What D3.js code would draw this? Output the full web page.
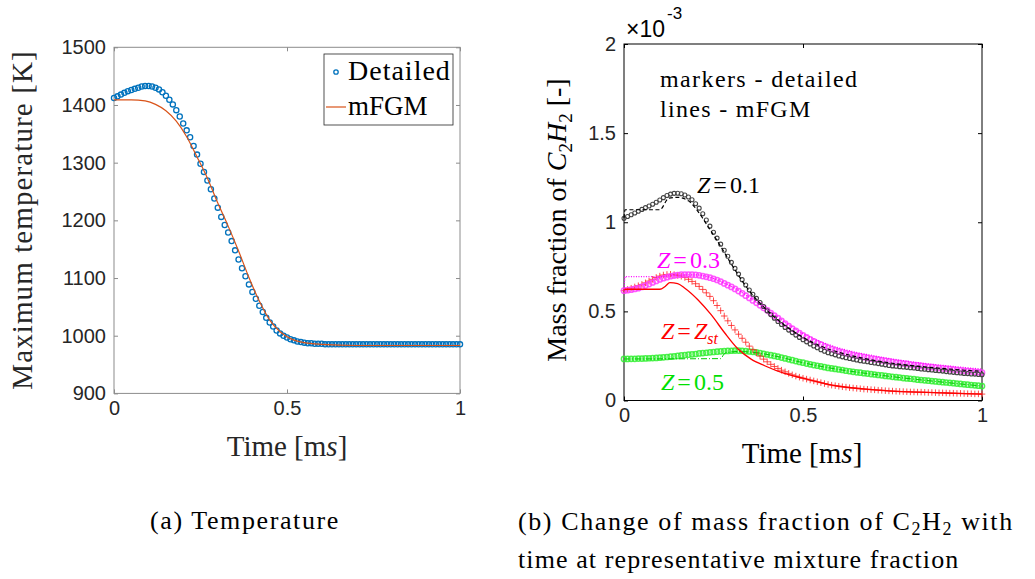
<!DOCTYPE html>
<html>
<head>
<meta charset="utf-8">
<script src="https://cdn.jsdelivr.net/npm/d3@7"></script>
<style>
  body { margin: 0; background: #fff; }
  text { font-family: "Liberation Serif", "DejaVu Serif", serif; }
  .tick text { font-family: "Liberation Sans", Arial, sans-serif; font-size: 20px; fill: #262626; }
  .sans { font-family: "Liberation Sans", Arial, sans-serif; }
</style>
</head>
<body>
<div id="chart"></div>
<script>
// time grid of the detailed solution (every 0.01 ms)
const tDet = d3.range(101).map(i => i / 100);

// (a) maximum temperature [K], detailed (markers)
const tempDetailed = [
  1412, 1415, 1418, 1421, 1424, 1426, 1428, 1430, 1432, 1433,
  1433, 1432, 1430, 1427, 1422, 1416, 1409, 1401, 1391, 1380,
  1368, 1356, 1344, 1329, 1314, 1298, 1284, 1269, 1254, 1238,
  1222, 1206, 1192, 1179, 1164, 1148, 1132, 1117, 1103, 1089,
  1076, 1064, 1052, 1041, 1031, 1023, 1016, 1009, 1004, 1000,
  997, 994, 992, 990, 989, 988, 987, 987, 986, 986,
  986, 985, 985, 985, 985, 985, 985, 985, 985, 985,
  985, 985, 985, 985, 985, 985, 985, 985, 985, 985,
  985, 985, 985, 985, 985, 985, 985, 985, 985, 985,
  985, 985, 985, 985, 985, 985, 985, 985, 985, 985, 985
];
// (a) mFGM line
const tempFgmT = [0, 0.05, 0.09, 0.12, 0.15, 0.18, 0.21, 0.24, 0.27, 0.30, 0.33, 0.36, 0.39, 0.42, 0.45, 0.48, 0.51, 0.55, 0.60, 0.70, 1.0];
const tempFgm  = [1409, 1409, 1407, 1401, 1390, 1372, 1345, 1310, 1273, 1230, 1190, 1147, 1101, 1060, 1027, 1007, 995, 988, 985, 983, 983];

// (b) C2H2 mass fraction (x1e-3), detailed markers
const c2h2Z01 = [
  1.022, 1.032, 1.042, 1.052, 1.062, 1.072, 1.082, 1.091, 1.101, 1.112,
  1.125, 1.138, 1.150, 1.158, 1.162, 1.163, 1.160, 1.153, 1.142, 1.126,
  1.104, 1.079, 1.048, 1.013, 0.978, 0.944, 0.911, 0.877, 0.843, 0.809,
  0.775, 0.741, 0.709, 0.678, 0.648, 0.620, 0.596, 0.573, 0.550, 0.527,
  0.503, 0.482, 0.462, 0.443, 0.426, 0.410, 0.395, 0.381, 0.367, 0.354,
  0.341, 0.329, 0.317, 0.306, 0.296, 0.285, 0.276, 0.268, 0.262, 0.256,
  0.250, 0.245, 0.240, 0.236, 0.232, 0.227, 0.223, 0.220, 0.217, 0.213,
  0.210, 0.207, 0.204, 0.200, 0.196, 0.194, 0.192, 0.190, 0.188, 0.186,
  0.184, 0.182, 0.180, 0.177, 0.175, 0.173, 0.171, 0.169, 0.167, 0.165,
  0.162, 0.160, 0.158, 0.156, 0.154, 0.152, 0.151, 0.149, 0.148, 0.146, 0.145
];
const c2h2Z03 = [
  0.616, 0.619, 0.622, 0.626, 0.630, 0.637, 0.645, 0.653, 0.662, 0.671,
  0.679, 0.686, 0.692, 0.697, 0.701, 0.704, 0.706, 0.707, 0.707, 0.706,
  0.705, 0.702, 0.698, 0.694, 0.689, 0.683, 0.676, 0.667, 0.657, 0.647,
  0.637, 0.626, 0.614, 0.601, 0.588, 0.575, 0.561, 0.548, 0.534, 0.520,
  0.506, 0.491, 0.476, 0.462, 0.447, 0.432, 0.418, 0.404, 0.391, 0.378,
  0.366, 0.354, 0.343, 0.332, 0.322, 0.313, 0.304, 0.296, 0.289, 0.282,
  0.276, 0.270, 0.265, 0.260, 0.255, 0.251, 0.247, 0.243, 0.239, 0.235,
  0.232, 0.229, 0.225, 0.222, 0.219, 0.216, 0.213, 0.210, 0.207, 0.205,
  0.202, 0.199, 0.197, 0.194, 0.192, 0.189, 0.187, 0.185, 0.182, 0.180,
  0.178, 0.176, 0.174, 0.171, 0.169, 0.167, 0.165, 0.163, 0.161, 0.159, 0.157
];
const c2h2Zst = [
  0.616, 0.623, 0.630, 0.637, 0.644, 0.651, 0.660, 0.670, 0.680, 0.690,
  0.698, 0.704, 0.707, 0.708, 0.706, 0.702, 0.697, 0.690, 0.680, 0.668,
  0.655, 0.640, 0.623, 0.604, 0.584, 0.560, 0.533, 0.504, 0.474, 0.447,
  0.421, 0.396, 0.372, 0.349, 0.327, 0.305, 0.285, 0.267, 0.249, 0.232,
  0.217, 0.203, 0.191, 0.180, 0.170, 0.161, 0.152, 0.144, 0.137, 0.131,
  0.125, 0.120, 0.115, 0.110, 0.105, 0.100, 0.095, 0.090, 0.086, 0.083,
  0.080, 0.077, 0.075, 0.072, 0.070, 0.068, 0.066, 0.064, 0.063, 0.061,
  0.060, 0.058, 0.057, 0.055, 0.054, 0.053, 0.052, 0.051, 0.050, 0.049,
  0.048, 0.048, 0.047, 0.047, 0.046, 0.045, 0.045, 0.044, 0.043, 0.043,
  0.042, 0.041, 0.041, 0.040, 0.040, 0.039, 0.038, 0.038, 0.037, 0.037, 0.036
];
const c2h2Z05 = [
  0.233, 0.233, 0.234, 0.234, 0.235, 0.235, 0.236, 0.237, 0.238, 0.239,
  0.240, 0.242, 0.244, 0.246, 0.248, 0.250, 0.253, 0.255, 0.257, 0.259,
  0.261, 0.264, 0.266, 0.268, 0.270, 0.272, 0.274, 0.276, 0.277, 0.278,
  0.279, 0.280, 0.280, 0.279, 0.277, 0.275, 0.273, 0.270, 0.266, 0.262,
  0.258, 0.254, 0.250, 0.246, 0.241, 0.236, 0.231, 0.226, 0.221, 0.216,
  0.212, 0.207, 0.203, 0.199, 0.195, 0.191, 0.187, 0.183, 0.180, 0.177,
  0.174, 0.171, 0.167, 0.164, 0.161, 0.158, 0.156, 0.153, 0.151, 0.148,
  0.146, 0.143, 0.141, 0.138, 0.136, 0.133, 0.131, 0.129, 0.126, 0.124,
  0.122, 0.120, 0.117, 0.115, 0.113, 0.111, 0.109, 0.107, 0.105, 0.103,
  0.101, 0.099, 0.097, 0.095, 0.093, 0.091, 0.089, 0.087, 0.085, 0.083, 0.081
];

// (b) mFGM lines
const fgmZ01T = [0, 0.003, 0.10, 0.125, 0.15, 0.18, 0.207, 0.235, 0.27, 0.30, 0.35, 0.40, 0.45, 0.50, 0.55, 0.65, 0.75, 0.85, 1.0];
const fgmZ01  = [1.022, 1.07, 1.07, 1.135, 1.14, 1.12, 1.06, 0.975, 0.865, 0.765, 0.615, 0.505, 0.42, 0.355, 0.305, 0.245, 0.209, 0.187, 0.163];
const fgmZ03T = [0, 0.003, 0.10, 0.15, 0.20, 0.30, 0.40, 0.50, 0.60, 0.70, 0.80, 0.90, 1.0];
const fgmZ03  = [0.616, 0.695, 0.695, 0.703, 0.705, 0.64, 0.51, 0.375, 0.295, 0.25, 0.218, 0.195, 0.176];
const fgmZstT = [0, 0.003, 0.10, 0.115, 0.128, 0.15, 0.17, 0.207, 0.244, 0.281, 0.318, 0.355, 0.393, 0.446, 0.50, 0.60, 0.70, 0.80, 0.90, 1.0];
const fgmZst  = [0.616, 0.624, 0.624, 0.640, 0.661, 0.655, 0.63, 0.564, 0.48, 0.38, 0.29, 0.232, 0.195, 0.153, 0.125, 0.08, 0.06, 0.048, 0.042, 0.036];
const fgmZ05T = [0, 0.27, 0.28, 0.29, 0.32, 0.37, 0.43, 0.50, 0.60, 0.70, 0.80, 0.90, 1.0];
const fgmZ05  = [0.233, 0.235, 0.262, 0.27, 0.275, 0.268, 0.246, 0.212, 0.174, 0.146, 0.122, 0.101, 0.081];

const xTicks = [0, 0.5, 1];
const tempTicks = [900, 1000, 1100, 1200, 1300, 1400, 1500];
const massTicks = [0, 0.5, 1, 1.5, 2];

const width = 1035, height = 579;
const svg = d3.select("#chart").append("svg")
  .attr("width", width).attr("height", height);

// draws the boxed axes with inward ticks on all four sides
function frame(g, x, y, yTicks, color) {
  const [x0, x1] = x.range(), [y0, y1] = y.range();
  g.append("g").attr("transform", `translate(0,${y0})`)
    .call(d3.axisBottom(x).tickValues(xTicks).tickFormat(d => d).tickSizeInner(-4).tickSizeOuter(0).tickPadding(7));
  g.append("g").attr("transform", `translate(0,${y1})`)
    .call(d3.axisTop(x).tickValues(xTicks).tickFormat("").tickSizeInner(-4).tickSizeOuter(0));
  g.append("g").attr("transform", `translate(${x0},0)`)
    .call(d3.axisLeft(y).tickValues(yTicks).tickFormat(d => d).tickSizeInner(-4).tickSizeOuter(0).tickPadding(8));
  g.append("g").attr("transform", `translate(${x1},0)`)
    .call(d3.axisRight(y).tickValues(yTicks).tickFormat("").tickSizeInner(-4).tickSizeOuter(0));
  g.selectAll(".domain").remove();
  g.selectAll(".tick line").attr("stroke", color);
  g.append("rect").attr("x", x0).attr("y", y1).attr("width", x1 - x0).attr("height", y0 - y1)
    .attr("fill", "none").attr("stroke", color).attr("stroke-width", 1);
}

// ---------- (a) temperature ----------
const xL = d3.scaleLinear().domain([0, 1]).range([114, 460]);
const yL = d3.scaleLinear().domain([900, 1500]).range([393.4, 47.3]);
const gL = svg.append("g");
frame(gL, xL, yL, tempTicks, "#8c8c8c");

gL.append("g").selectAll("circle")
  .data(tDet.map((t, i) => [t, tempDetailed[i]]))
  .join("circle")
  .attr("cx", d => xL(d[0])).attr("cy", d => yL(d[1])).attr("r", 2.6)
  .attr("fill", "none").attr("stroke", "#0072BD").attr("stroke-width", 1.3);

gL.append("path")
  .datum(tempFgmT.map((t, i) => [t, tempFgm[i]]))
  .attr("fill", "none").attr("stroke", "#D95319").attr("stroke-width", 1.2)
  .attr("d", d3.line().x(d => xL(d[0])).y(d => yL(d[1])).curve(d3.curveMonotoneX));

// legend
const leg = gL.append("g");
leg.append("rect").attr("x", 324).attr("y", 54).attr("width", 129).attr("height", 71)
  .attr("fill", "#fff").attr("stroke", "#262626").attr("stroke-width", 0.8);
leg.append("circle").attr("cx", 336).attr("cy", 72).attr("r", 2.2)
  .attr("fill", "none").attr("stroke", "#0072BD").attr("stroke-width", 1.3);
leg.append("line").attr("x1", 326).attr("x2", 346).attr("y1", 107).attr("y2", 107)
  .attr("stroke", "#D95319").attr("stroke-width", 1.2);
leg.append("text").attr("x", 348).attr("y", 80).attr("font-size", 28)
  .style("letter-spacing", "1px").text("Detailed");
leg.append("text").attr("x", 348).attr("y", 115).attr("font-size", 27).text("mFGM");

// axis labels
const xlabL = gL.append("text").attr("x", 287).attr("y", 456).attr("font-size", 29)
  .attr("text-anchor", "middle").attr("fill", "#262626");
xlabL.append("tspan").text("Time [m");
xlabL.append("tspan").attr("font-style", "italic").text("s");
xlabL.append("tspan").text("]");

gL.append("text").attr("transform", "translate(32,220) rotate(-90)").attr("font-size", 29)
  .attr("text-anchor", "middle").attr("fill", "#262626")
  .style("letter-spacing", "1.1px")
  .text("Maximum temperature [K]");

// ---------- (b) C2H2 ----------
const xR = d3.scaleLinear().domain([0, 1]).range([624, 982]);
const yR = d3.scaleLinear().domain([0, 2]).range([400.5, 44]);
const gR = svg.append("g");
frame(gR, xR, yR, massTicks, "#000");
gR.selectAll(".tick text").attr("fill", "#000");

const line = d3.line().x(d => xR(d[0])).y(d => yR(d[1])).curve(d3.curveMonotoneX);
const pairs = (ts, vs) => ts.map((t, i) => [t, vs[i]]);

const plus = d3.symbol().type(d3.symbolPlus || d3.symbolCross).size(16);

// detailed markers
gR.append("g").selectAll("circle").data(pairs(tDet, c2h2Z05)).join("circle")
  .attr("cx", d => xR(d[0])).attr("cy", d => yR(d[1])).attr("r", 2.6)
  .attr("fill", "none").attr("stroke", "#33ee33").attr("stroke-width", 1.5).attr("stroke-opacity", 0.85);
gR.append("g").selectAll("path").data(pairs(tDet, c2h2Zst)).join("path")
  .attr("transform", d => `translate(${xR(d[0])},${yR(d[1])})`).attr("d", plus)
  .attr("fill", "none").attr("stroke", "#ff2020").attr("stroke-width", 1).attr("stroke-opacity", 0.8);
gR.append("g").selectAll("circle").data(pairs(tDet, c2h2Z03)).join("circle")
  .attr("cx", d => xR(d[0])).attr("cy", d => yR(d[1])).attr("r", 2.6)
  .attr("fill", "none").attr("stroke", "#ff40ff").attr("stroke-width", 1.5).attr("stroke-opacity", 0.85);
gR.append("g").selectAll("circle").data(pairs(tDet, c2h2Z01)).join("circle")
  .attr("cx", d => xR(d[0])).attr("cy", d => yR(d[1])).attr("r", 2)
  .attr("fill", "none").attr("stroke", "#444").attr("stroke-width", 1.1);

// mFGM lines
gR.append("path").datum(pairs(fgmZ05T, fgmZ05)).attr("d", line)
  .attr("fill", "none").attr("stroke", "#00cc00").attr("stroke-width", 1).attr("stroke-dasharray", "6,2,1,2");
gR.append("path").datum(pairs(fgmZstT, fgmZst)).attr("d", line)
  .attr("fill", "none").attr("stroke", "#ff0000").attr("stroke-width", 1.3);
gR.append("path").datum(pairs(fgmZ03T, fgmZ03)).attr("d", line)
  .attr("fill", "none").attr("stroke", "#ff00ff").attr("stroke-width", 1.3).attr("stroke-dasharray", "1,1.5");
gR.append("path").datum(pairs(fgmZ01T, fgmZ01)).attr("d", line)
  .attr("fill", "none").attr("stroke", "#000").attr("stroke-width", 1.2).attr("stroke-dasharray", "4,2.5");

// exponent
const expo = gR.append("text").attr("class", "sans").attr("x", 626).attr("y", 37).attr("font-size", 23);
expo.append("tspan").text("×10");
expo.append("tspan").attr("dx", 2).attr("dy", -18).attr("font-size", 17).text("-3");

// annotations
gR.append("text").attr("x", 660).attr("y", 87).attr("font-size", 24)
  .style("letter-spacing", "1.4px").text("markers - detailed");
gR.append("text").attr("x", 660).attr("y", 117).attr("font-size", 24)
  .style("letter-spacing", "1.3px").text("lines - mFGM");

function zLabel(x, y, color, value, sub) {
  const t = gR.append("text").attr("x", x).attr("y", y).attr("font-size", 24).attr("fill", color);
  t.append("tspan").attr("font-style", "italic").text("Z");
  t.append("tspan").attr("dx", 3).text("=");
  if (sub) {
    t.append("tspan").attr("dx", 3).attr("font-style", "italic").text("Z");
    t.append("tspan").attr("dy", 5).attr("font-size", 16).attr("font-style", "italic").text(sub);
  } else {
    t.append("tspan").attr("dx", 3).text(value);
  }
}
zLabel(697, 193, "#000", "0.1");
zLabel(657, 268, "#ff00ff", "0.3");
zLabel(661, 339, "#ff0000", null, "st");
zLabel(661, 390, "#00e000", "0.5");

const xlabR = gR.append("text").attr("x", 802).attr("y", 463).attr("font-size", 29)
  .attr("text-anchor", "middle");
xlabR.append("tspan").text("Time [m");
xlabR.append("tspan").attr("font-style", "italic").text("s");
xlabR.append("tspan").text("]");

const ylabR = gR.append("text").attr("transform", "translate(566,220) rotate(-90)")
  .attr("font-size", 28).attr("text-anchor", "middle");
ylabR.append("tspan").text("Mass fraction of ");
ylabR.append("tspan").attr("font-style", "italic").text("C");
ylabR.append("tspan").attr("dy", 6).attr("font-size", 19).text("2");
ylabR.append("tspan").attr("dy", -6).attr("font-style", "italic").text("H");
ylabR.append("tspan").attr("dy", 6).attr("font-size", 19).text("2");
ylabR.append("tspan").attr("dy", -6).text(" [-]");

// ---------- captions ----------
svg.append("text").attr("x", 150).attr("y", 529).attr("font-size", 26)
  .style("letter-spacing", "1.6px").text("(a) Temperature");
const cap = svg.append("text").attr("x", 518).attr("y", 530).attr("font-size", 26)
  .style("letter-spacing", "1.6px");
cap.append("tspan").text("(b) Change of mass fraction of C");
cap.append("tspan").attr("dy", 5).attr("font-size", 18).text("2");
cap.append("tspan").attr("dy", -5).text("H");
cap.append("tspan").attr("dy", 5).attr("font-size", 18).text("2");
cap.append("tspan").attr("dy", -5).text(" with");
svg.append("text").attr("x", 518).attr("y", 568).attr("font-size", 26)
  .style("letter-spacing", "1.1px").text("time at representative mixture fraction");
</script>
</body>
</html>
